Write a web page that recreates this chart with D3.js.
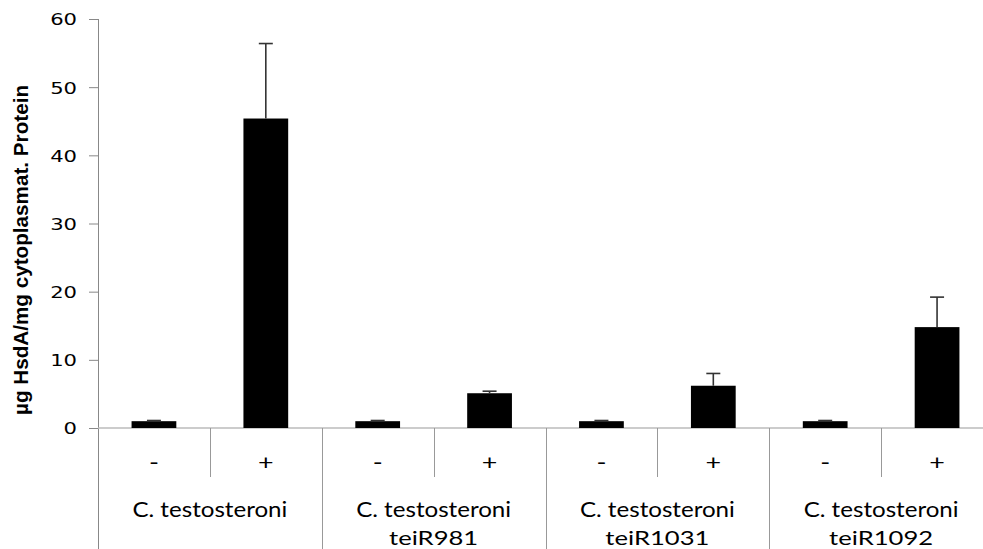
<!DOCTYPE html>
<html><head><meta charset="utf-8">
<script src="https://cdn.jsdelivr.net/npm/d3@7"></script>
<style>body{margin:0;background:#fff}svg{display:block}</style>
</head><body>
<svg id="c" width="983" height="549"></svg>
<script>
const groups = ["C. testosteroni", "C. testosteroni|teiR981", "C. testosteroni|teiR1031", "C. testosteroni|teiR1092"];
const treatments = ["-", "+"];
const values = [1.0, 45.4, 1.0, 5.1, 1.0, 6.2, 1.0, 14.8];
const errors = [0.1, 11.0, 0.1, 0.3, 0.1, 1.8, 0.1, 4.4];
const yTicks = [0, 10, 20, 30, 40, 50, 60];
const yTitle = "µg HsdA/mg cytoplasmat. Protein";

const svg = d3.select("#c");
const x0 = 98, x1 = 993, yTop = 19, yBase = 428;
const STRETCH = 1.28;
function stretch(sel) {
  sel.each(function () {
    const w = this.getComputedTextLength();
    d3.select(this).attr("textLength", w * STRETCH).attr("lengthAdjust", "spacingAndGlyphs");
  });
}
const cats = [];
groups.forEach((g, gi) => treatments.forEach((t, ti) => cats.push({g: gi, t, i: gi * 2 + ti})));

const x = d3.scaleBand().domain(cats.map(c => c.i)).range([x0, x1]).paddingInner(0.6).paddingOuter(0.3);
const xg = d3.scaleBand().domain(groups.map((g, i) => i)).range([x0, x1]);
const y = d3.scaleLinear().domain([0, 60]).range([yBase, yTop]);

// y axis
const yAxis = d3.axisLeft(y).tickValues(yTicks).tickSize(9).tickPadding(12);
const ga = svg.append("g").attr("transform", `translate(${x0},0)`).call(yAxis);
ga.select(".domain").remove();
ga.selectAll(".tick line").attr("stroke", "#888");
ga.selectAll(".tick text").attr("font-family", "DejaVu Sans").attr("font-size", 16.5).attr("fill", "#000").attr("dy", "0.36em")
  .call(stretch);
svg.append("line").attr("x1", x0 + 0.5).attr("x2", x0 + 0.5).attr("y1", yTop).attr("y2", 549).attr("stroke", "#888");

// baseline
svg.append("line").attr("x1", x0).attr("x2", x1).attr("y1", yBase).attr("y2", yBase).attr("stroke", "#bbb").attr("stroke-width", 1.5);

// separators
cats.forEach(c => {
  if (c.i === 0) return;
  const xs = Math.round(x0 + (x1 - x0) / cats.length * c.i) + 0.5;
  const isGroup = c.i % 2 === 0;
  svg.append("line").attr("x1", xs).attr("x2", xs).attr("y1", yBase).attr("y2", isGroup ? 549 : 477).attr("stroke", "#999");
});

// bars
svg.append("g").selectAll("rect").data(cats).join("rect")
  .attr("x", c => x(c.i)).attr("width", x.bandwidth())
  .attr("y", c => y(values[c.i])).attr("height", c => y(0) - y(values[c.i]))
  .attr("fill", "#000");

// error bars
const eg = svg.append("g").attr("stroke", "#333").attr("stroke-width", 1.6);
cats.forEach(c => {
  const cx = x(c.i) + x.bandwidth() / 2;
  const top = y(values[c.i] + errors[c.i]);
  eg.append("line").attr("x1", cx).attr("x2", cx).attr("y1", y(values[c.i])).attr("y2", top);
  eg.append("line").attr("x1", cx - 7).attr("x2", cx + 7).attr("y1", top).attr("y2", top);
});

// treatment labels
svg.append("g").selectAll("text").data(cats).join("text")
  .attr("x", c => x(c.i) + x.bandwidth() / 2).attr("y", 470)
  .attr("text-anchor", "middle").attr("font-family", "Lato").attr("font-size", 21)
  .text(c => c.t).call(stretch);

// group labels
groups.forEach((g, gi) => {
  const lines = g.split("|");
  lines.forEach((l, li) => {
    svg.append("text").attr("text-anchor", "middle").attr("font-family", "Lato").attr("font-size", li === 0 ? 21 : 20)
      .attr("x", xg(gi) + xg.bandwidth() / 2).attr("y", 517 + li * 28).text(l)
      .attr("textLength", li === 0 ? 155 : null).attr("lengthAdjust", "spacingAndGlyphs")
      .each(function () { if (li > 0) { d3.select(this).call(stretch); } });
  });
});

// y title
svg.append("text").attr("transform", `translate(28,250) scale(1.3,1) rotate(-90)`)
  .attr("text-anchor", "middle").attr("font-family", "Liberation Sans").attr("font-weight", "bold")
  .attr("font-size", 15.5).attr("textLength", 330).attr("lengthAdjust", "spacingAndGlyphs").text(yTitle);
</script>
</body></html>
